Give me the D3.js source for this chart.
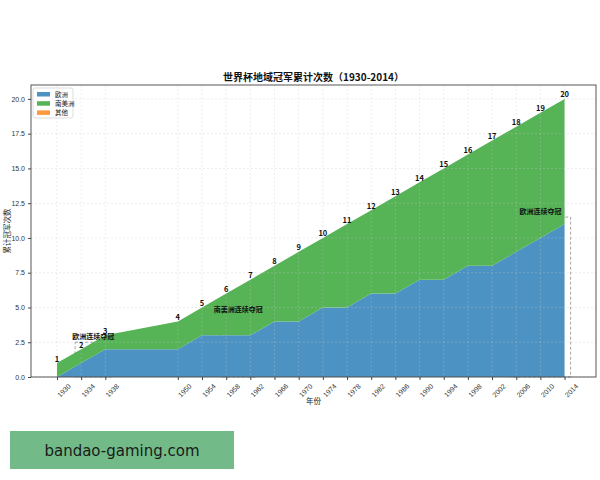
<!DOCTYPE html>
<html>
<head>
<meta charset="utf-8">
<script src="https://cdn.jsdelivr.net/npm/d3@7"></script>
<style>
  body { margin:0; background:#fff; font-family:"Noto Sans CJK SC", "DejaVu Sans", sans-serif; }
  .grid line { stroke:#c8c8c8; stroke-opacity:0.55; stroke-dasharray:2,2; stroke-width:0.6; }
  .axis text { font-size:7px; fill:#333; }
  .axis path, .axis line { stroke:#444; }
</style>
</head>
<body>
<svg width="600" height="480"></svg>
<script>
// world cup years and cumulative titles per region
const years = [1930,1934,1938,1950,1954,1958,1962,1966,1970,1974,1978,1982,1986,1990,1994,1998,2002,2006,2010,2014];
const europe = [0,1,2,2,3,3,3,4,4,5,5,6,6,7,7,8,8,9,10,11];
const southAmerica = [1,1,1,2,2,3,4,4,5,5,6,6,7,7,8,8,9,9,9,9];
const other = [0,0,0,0,0,0,0,0,0,0,0,0,0,0,0,0,0,0,0,0];
const regions = ['欧洲','南美洲','其他'];
const colors = ['#4c92c3','#56b356','#ff993e'];
const yTicks = [0,2.5,5,7.5,10,12.5,15,17.5,20];
// winning streaks to highlight
const streaks = [
  { start:1934, end:1938, region:'欧洲', label:'欧洲连续夺冠' },
  { start:1958, end:1962, region:'南美洲', label:'南美洲连续夺冠' },
  { start:2006, end:2014, region:'欧洲', label:'欧洲连续夺冠' }
];

const margin = { top:85, right:4, bottom:103, left:31 };
const width = 600 - margin.left - margin.right;
const height = 480 - margin.top - margin.bottom;

const svg = d3.select('svg');
const g = svg.append('g').attr('transform', `translate(${margin.left},${margin.top})`);

const x = d3.scaleLinear().domain([1925.7, 2019.2]).range([0, width]);
const y = d3.scaleLinear().domain([0, 21]).range([height, 0]);

const rows = years.map((yr, i) => ({ year:yr, '欧洲':europe[i], '南美洲':southAmerica[i], '其他':other[i] }));
const byRegion = { '欧洲':europe, '南美洲':southAmerica, '其他':other };

// streak boxes, drawn under the areas
streaks.forEach(s => {
  const idx = years.indexOf(s.end);
  const top = byRegion[s.region][idx] + 0.5;
  g.append('rect')
    .attr('x', x(s.start - 1)).attr('y', y(top))
    .attr('width', x(s.end + 1) - x(s.start - 1)).attr('height', y(0) - y(top))
    .attr('fill','none').attr('stroke','#999').attr('stroke-width',0.9)
    .attr('stroke-dasharray','3,2');
});

// stacked areas
const stack = d3.stack().keys(regions);
const series = stack(rows);
const area = d3.area()
  .x(d => x(d.data.year))
  .y0(d => y(d[0]))
  .y1(d => y(d[1]));

g.selectAll('path.area').data(series).join('path')
  .attr('class','area')
  .attr('d', area)
  .attr('fill', (d, i) => colors[i]);

// grid on top, faint
g.append('g').attr('class','grid')
  .selectAll('line').data(years).join('line')
  .attr('x1', d => x(d)).attr('x2', d => x(d)).attr('y1', 0).attr('y2', height);
g.append('g').attr('class','grid')
  .selectAll('line').data(yTicks).join('line')
  .attr('x1', 0).attr('x2', width).attr('y1', d => y(d)).attr('y2', d => y(d));

// total labels
g.selectAll('text.total').data(rows).join('text')
  .attr('class','total')
  .attr('x', d => x(d.year))
  .attr('y', d => y(d['欧洲'] + d['南美洲'] + d['其他']) - 1.5)
  .attr('text-anchor','middle')
  .attr('font-size', 7.5).attr('font-weight','bold').attr('fill','#111')
  .text(d => d['欧洲'] + d['南美洲'] + d['其他']);

// streak labels
streaks.forEach(s => {
  const idx = years.indexOf(s.end);
  const top = byRegion[s.region][idx] + 0.5;
  g.append('text')
    .attr('x', x((s.start + s.end) / 2))
    .attr('y', y(top + 0.2))
    .attr('text-anchor','middle')
    .attr('font-size', 7).attr('font-weight','bold').attr('fill','#111')
    .text(s.label);
});

// axes
const xAxis = d3.axisBottom(x).tickValues(years).tickFormat(d3.format('d')).tickSize(3);
const yAxis = d3.axisLeft(y).tickValues(yTicks).tickFormat(d3.format('.1f')).tickSize(3);

const xg = g.append('g').attr('class','axis').attr('transform', `translate(0,${height})`).call(xAxis);
xg.select('.domain').remove();
xg.selectAll('text')
  .attr('text-anchor','end')
  .attr('transform','translate(6,2) rotate(-45)');
const yg = g.append('g').attr('class','axis').call(yAxis);
yg.select('.domain').remove();

// frame
g.append('rect').attr('width', width).attr('height', height)
  .attr('fill','none').attr('stroke','#444').attr('stroke-width',0.9);

// labels
svg.append('text')
  .attr('x', margin.left + width / 2).attr('y', 81)
  .attr('text-anchor','middle').attr('font-size',10).attr('font-weight','bold').attr('fill','#111')
  .text('世界杯地域冠军累计次数（1930-2014）');
svg.append('text')
  .attr('x', margin.left + width / 2).attr('y', 404)
  .attr('text-anchor','middle').attr('font-size',7.5).attr('fill','#222')
  .text('年份');
svg.append('text')
  .attr('transform', `translate(10,${margin.top + height / 2}) rotate(-90)`)
  .attr('text-anchor','middle').attr('font-size',7.5).attr('fill','#222')
  .text('累计冠军次数');

// legend
const legend = g.append('g').attr('transform','translate(2,3)');
legend.append('rect').attr('width',40).attr('height',30)
  .attr('fill','#fff').attr('fill-opacity',0.8).attr('stroke','#ddd').attr('rx',2);
regions.forEach((r, i) => {
  const row = legend.append('g').attr('transform', `translate(4,${4 + i * 9.2})`);
  row.append('rect').attr('width',13).attr('height',4.5).attr('y',0)
    .attr('fill', colors[i]);
  row.append('text').attr('x',18).attr('y',5).attr('font-size',6.5).attr('fill','#222').text(r);
});

// watermark
svg.append('rect').attr('x',10).attr('y',431).attr('width',224).attr('height',38).attr('fill','#72bb88');
svg.append('text').attr('x',122).attr('y',456).attr('text-anchor','middle')
  .attr('font-family','"DejaVu Sans", sans-serif').attr('font-size',15).attr('fill','#1a1a1a')
  .text('bandao-gaming.com');
</script>
</body>
</html>
